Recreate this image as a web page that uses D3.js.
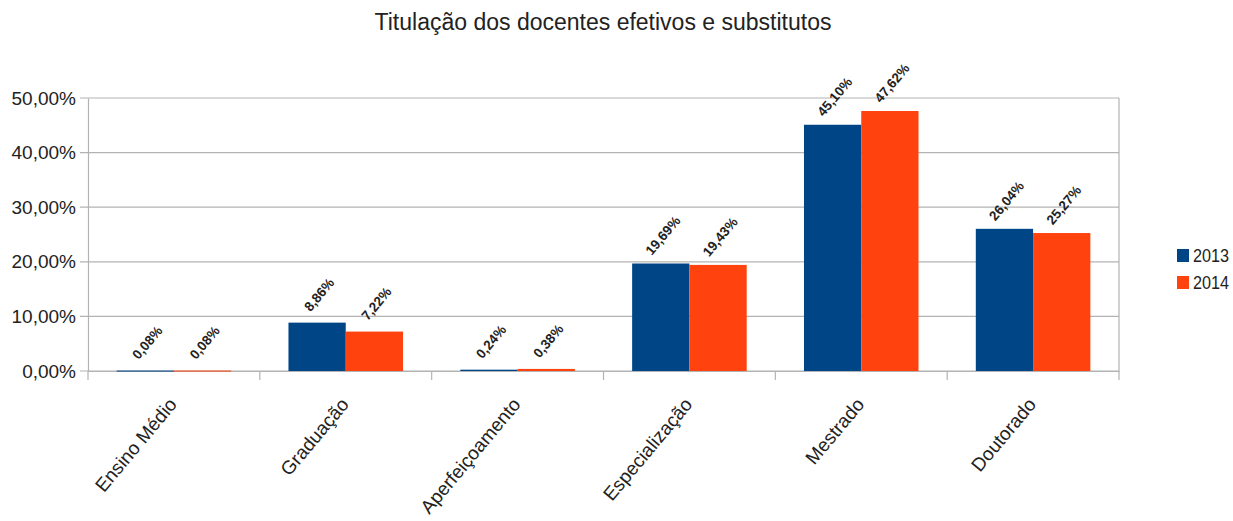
<!DOCTYPE html>
<html>
<head>
<meta charset="utf-8">
<script src="https://cdn.jsdelivr.net/npm/d3@7"></script>
<style>
  body { margin: 0; background: #fff; }
  svg { display: block; }
</style>
</head>
<body>
<svg id="chart" width="1233" height="521"></svg>
<script>
// Titulação dos docentes — share of staff by highest degree, 2013 vs 2014
const categories = ["Ensino Médio", "Graduação", "Aperfeiçoamento", "Especialização", "Mestrado", "Doutorado"];
const series2013 = [0.08, 8.86, 0.24, 19.69, 45.10, 26.04];
const series2014 = [0.08, 7.22, 0.38, 19.43, 47.62, 25.27];
const seriesNames = ["2013", "2014"];
const yTicks = [0, 10, 20, 30, 40, 50];
const colors = ["#004586", "#ff420e"];

const font = "'Liberation Sans', Arial, sans-serif";
const svg = d3.select("#chart");
const margin = { left: 88, right: 1119, top: 98, bottom: 371 };

const x = d3.scaleBand().domain(categories).range([margin.left, margin.right]).paddingInner(0).paddingOuter(0);
const inner = d3.scaleBand().domain(seriesNames).range([0, x.bandwidth()]).paddingInner(0).paddingOuter(0.5);
const y = d3.scaleLinear().domain([0, 50]).range([margin.bottom, margin.top]);

const fmt = v => v.toFixed(2).replace(".", ",") + "%";

// title
svg.append("text")
  .attr("x", 603).attr("y", 30)
  .attr("text-anchor", "middle")
  .attr("font-family", font).attr("font-size", 23).attr("fill", "#222")
  .text("Titulação dos docentes efetivos e substitutos");

// horizontal grid
svg.append("g").selectAll("line").data(yTicks).join("line")
  .attr("x1", margin.left - 8).attr("x2", margin.right)
  .attr("y1", d => y(d)).attr("y2", d => y(d))
  .attr("stroke", "#b3b3b3").attr("stroke-width", 1.2);

// y axis
const yAxis = d3.axisLeft(y).tickValues(yTicks).tickSize(0).tickPadding(12)
  .tickFormat(d => d.toFixed(2).replace(".", ",") + "%");
const gy = svg.append("g").attr("transform", `translate(${margin.left},0)`).call(yAxis);
gy.select(".domain").attr("stroke", "#b3b3b3").attr("stroke-width", 1.2);
gy.selectAll("text").attr("font-family", font).attr("font-size", 19).attr("fill", "#222");

// right border
svg.append("line")
  .attr("x1", margin.right).attr("x2", margin.right)
  .attr("y1", margin.top).attr("y2", margin.bottom)
  .attr("stroke", "#b3b3b3").attr("stroke-width", 1.2);

// category separators below the axis
const bounds = categories.map(c => x(c)).concat([margin.right]);
svg.append("g").selectAll("line").data(bounds).join("line")
  .attr("x1", d => d).attr("x2", d => d)
  .attr("y1", margin.bottom).attr("y2", margin.bottom + 9)
  .attr("stroke", "#b3b3b3").attr("stroke-width", 1.2);

const xAxis = d3.axisBottom(x).tickSize(0).tickPadding(0);
const gx = svg.append("g").attr("transform", `translate(0,${margin.bottom})`).call(xAxis);
gx.select(".domain").attr("stroke", "#b3b3b3").attr("stroke-width", 1.2);
gx.selectAll(".tick text")
  .attr("font-family", font).attr("font-size", 19).attr("fill", "#222")
  .attr("text-anchor", "end")
  .attr("y", 0).attr("dy", 0)
  .attr("transform", "translate(4,34) rotate(-50)");

// bars
const rows = categories.map((c, i) => ({ cat: c, values: [series2013[i], series2014[i]] }));
const groups = svg.append("g").selectAll("g").data(rows).join("g")
  .attr("transform", d => `translate(${x(d.cat)},0)`);

groups.selectAll("rect")
  .data(d => d.values.map((v, j) => ({ v, j })))
  .join("rect")
  .attr("x", d => inner(seriesNames[d.j]))
  .attr("width", inner.bandwidth())
  .attr("y", d => y(d.v))
  .attr("height", d => Math.max(1, y(0) - y(d.v)))
  .attr("fill", d => colors[d.j]);

// value labels
groups.selectAll("text.val")
  .data(d => d.values.map((v, j) => ({ v, j })))
  .join("text")
  .attr("class", "val")
  .attr("font-family", font)
  .attr("font-size", 13.5).attr("font-weight", "bold").attr("fill", "#222")
  .attr("text-anchor", "middle")
  .attr("transform", d => {
    const cx = inner(seriesNames[d.j]) + inner.bandwidth() / 2 + 2;
    const cy = y(d.v) - 28;
    return `translate(${cx},${cy}) rotate(-50)`;
  })
  .attr("dy", "0.35em")
  .text(d => fmt(d.v));

// legend
const legend = svg.append("g").selectAll("g").data(seriesNames).join("g")
  .attr("transform", (d, i) => `translate(1177,${249 + i * 27})`);
legend.append("rect").attr("width", 12).attr("height", 13)
  .attr("fill", (d, i) => colors[i]);
legend.append("text").attr("x", 0).attr("y", 0)
  .attr("transform", "translate(16,13) scale(0.9,1)")
  .attr("font-family", font).attr("font-size", 18).attr("fill", "#222")
  .text(d => d);
</script>
</body>
</html>
